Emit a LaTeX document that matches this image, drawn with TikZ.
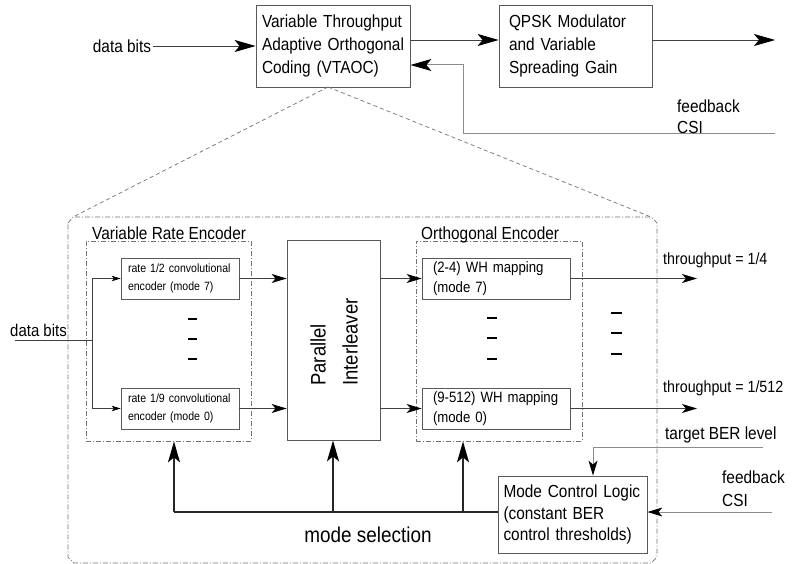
\documentclass[tikz,border=0pt]{standalone}
\usepackage{fontspec}
\setmainfont{Liberation Sans}[FakeStretch=0.88]
\usetikzlibrary{arrows.meta}
\hyphenpenalty=10000
\exhyphenpenalty=10000
\definecolor{boxc}{gray}{0.35}
\definecolor{connc}{gray}{0.25}
\definecolor{fbc}{gray}{0.55}
\definecolor{ddc}{gray}{0.45}
\newcommand{\mainfs}{\fontsize{17.5}{23}\selectfont}
\tikzset{
  bigtip/.tip={Stealth[length=21pt,width=12pt,inset=5pt,color=black]},
  midtip/.tip={Stealth[length=15pt,width=9pt,inset=4pt,color=black]},
  smalltip/.tip={Stealth[length=9pt,width=5.5pt,inset=2.5pt,color=black]},
  box/.style={draw=boxc, line width=0.8pt, align=left, inner sep=0pt},
  ddbox/.style={draw=ddc, line width=0.7pt, dash pattern=on 5pt off 2pt on 1pt off 2pt},
  dashln/.style={draw=ddc, line width=0.7pt, dash pattern=on 4pt off 3pt},
  conn/.style={draw=connc, line width=0.8pt},
  fbline/.style={draw=fbc, line width=1pt},
  busline/.style={draw=black!85, line width=1.6pt},
  dashmark/.style={draw=black, line width=1.3pt},
  lbl/.style={inner sep=0pt, anchor=west, align=left}
}
\begin{document}
\begin{tikzpicture}[x=1pt,y=-1pt]
\useasboundingbox (0,0) rectangle (794,564);
\fill[white] (0,0) rectangle (794,564);

% ---------- top row ----------
\node[box, minimum width=154pt, minimum height=82pt, text width=142pt, font=\mainfs] (vtaoc) at (333,46) {Variable Throughput\\Adaptive Orthogonal\\Coding (VTAOC)};
\node[box, minimum width=153pt, minimum height=82pt, text width=133pt, font=\mainfs] (qpsk) at (575.5,46) {QPSK Modulator\\and Variable\\Spreading Gain};
\node[font=\mainfs, inner sep=2pt] (db) at (122,46) {data bits};
\coordinate (out) at (775,40);
\coordinate (fbtop) at (775,134);

\draw[conn, -{bigtip}] (db.east) -- (vtaoc.west);
\draw[conn, -{bigtip}] ([yshift=6pt]vtaoc.east) -- ([yshift=6pt]qpsk.west);
\draw[conn, -{bigtip}] ([yshift=6pt]qpsk.east) -- (out);
\draw[fbline, -{bigtip}] (fbtop) -| ([xshift=53pt,yshift=-19pt]vtaoc.east) -- ([yshift=-19pt]vtaoc.east);
\node[lbl, font=\fontsize{17.5}{21}\selectfont] (fbt) at (677,116.5) {feedback\\CSI};

% ---------- zoom lines and outer frame ----------
\coordinate (apex) at (328,87);
\coordinate (otl) at (73,217);
\coordinate (otr) at (651,217);
\draw[dashln] (apex) -- (otl);
\draw[dashln] (apex) -- (otr);
\draw[ddbox] (68,223) -- (otl) -- (otr) -- (657,223) -- (657,557) -- (651,563) -- (74,563) -- (68,557) -- cycle;

% ---------- variable rate encoder ----------
\node[ddbox, minimum width=165pt, minimum height=200pt, inner sep=0pt] (vre) at (168.5,341) {};
\node[inner sep=0pt, anchor=base west, font=\mainfs] (vrel) at (92,239) {Variable Rate Encoder};
\node[box, minimum width=118pt, minimum height=41pt, text width=104pt, font=\fontsize{12}{18}\selectfont] (r1) at (180,278.5) {rate 1/2 convolutional\\encoder (mode 7)};
\node[box, minimum width=118pt, minimum height=41pt, text width=104pt, font=\fontsize{12}{18}\selectfont] (r0) at (180,408.5) {rate 1/9 convolutional\\encoder (mode 0)};
\draw[dashmark] (188,319) -- (197,319);
\draw[dashmark] (188,339) -- (197,339);
\draw[dashmark] (188,359) -- (197,359);

\node[font=\fontsize{17}{20}\selectfont, inner sep=0pt] (db2) at (38.5,330) {data bits};
\coordinate (din) at (15,340.5);
\coordinate (split) at (92,340.5);
\draw[conn] (din) -- (split);
\draw[conn, -{smalltip}] (split) |- (r1.west);
\draw[conn, -{smalltip}] (split) |- (r0.west);

% ---------- interleaver ----------
\node[box, minimum width=93pt, minimum height=200pt] (il) at (333.5,340) {};
\node[rotate=90, align=left, inner sep=0pt, font=\fontsize{21}{32}\selectfont] (ilt) at (334,342) {Parallel\\Interleaver};
\draw[conn, -{midtip}] (r1.east) -- (r1.east -| il.west);
\draw[conn, -{midtip}] (r0.east) -- (r0.east -| il.west);

% ---------- orthogonal encoder ----------
\node[ddbox, minimum width=166pt, minimum height=200pt, inner sep=0pt] (oe) at (499,341) {};
\node[inner sep=0pt, anchor=base west, font=\mainfs] (oel) at (421,239) {Orthogonal Encoder};
\node[box, minimum width=148pt, minimum height=41pt, text width=126pt, font=\fontsize{15}{20}\selectfont] (w1) at (496,278.5) {(2-4) WH mapping\\(mode 7)};
\node[box, minimum width=148pt, minimum height=41pt, text width=126pt, font=\fontsize{15}{20}\selectfont] (w0) at (496,408.5) {(9-512) WH mapping\\(mode 0)};
\draw[dashmark] (487,318) -- (497,318);
\draw[dashmark] (487,338) -- (497,338);
\draw[dashmark] (487,359) -- (497,359);
\draw[conn, -{midtip}] (il.east |- w1.west) -- (w1.west);
\draw[conn, -{midtip}] (il.east |- w0.west) -- (w0.west);

% ---------- outputs ----------
\coordinate (t1) at (697,278.5);
\coordinate (t0) at (697,408.5);
\draw[conn, -{midtip}] (w1.east) -- (t1);
\draw[conn, -{midtip}] (w0.east) -- (t0);
\node[lbl, font=\fontsize{16.2}{18}\selectfont] (tp1) at (663,260) {throughput = 1/4};
\node[lbl, font=\fontsize{16.2}{18}\selectfont] (tp0) at (663,388) {throughput = 1/512};
\draw[dashmark] (611,313) -- (622,313);
\draw[dashmark] (611,333) -- (622,333);
\draw[dashmark] (611,354) -- (622,354);

% ---------- mode control ----------
\node[box, minimum width=149pt, minimum height=77pt, text width=138pt, font=\fontsize{17.5}{21.5}\selectfont] (mc) at (572.5,514.5) {Mode Control Logic\\(constant BER\\control thresholds)};
\node[lbl, font=\mainfs] (tbt) at (665,435) {target BER level};
\coordinate (tb) at (763,447);
\draw[fbline, -{midtip}] (tb) -| ([xshift=20.5pt]mc.north);
\node[lbl, font=\fontsize{17.5}{23}\selectfont] (fb2t) at (722,488.5) {feedback\\CSI};
\coordinate (fb2) at (772,512);
\draw[fbline, -{midtip}] (fb2) -- (fb2 -| mc.east);

% ---------- mode selection bus ----------
\coordinate (bus1) at (174,512);
\coordinate (bus2) at (333,512);
\coordinate (bus3) at (463,512);
\draw[busline] ([yshift=2.5pt]mc.west) -- (bus1);
\draw[busline, -{bigtip}] (bus1) -- (bus1 |- vre.south);
\draw[busline, -{bigtip}] (bus2) -- (bus2 |- il.south);
\draw[busline, -{bigtip}] (bus3) -- (bus3 |- oe.south);
\node[font=\fontsize{21.5}{24}\selectfont, inner sep=0pt] (mst) at (368,535) {mode selection};
\end{tikzpicture}
\end{document}
